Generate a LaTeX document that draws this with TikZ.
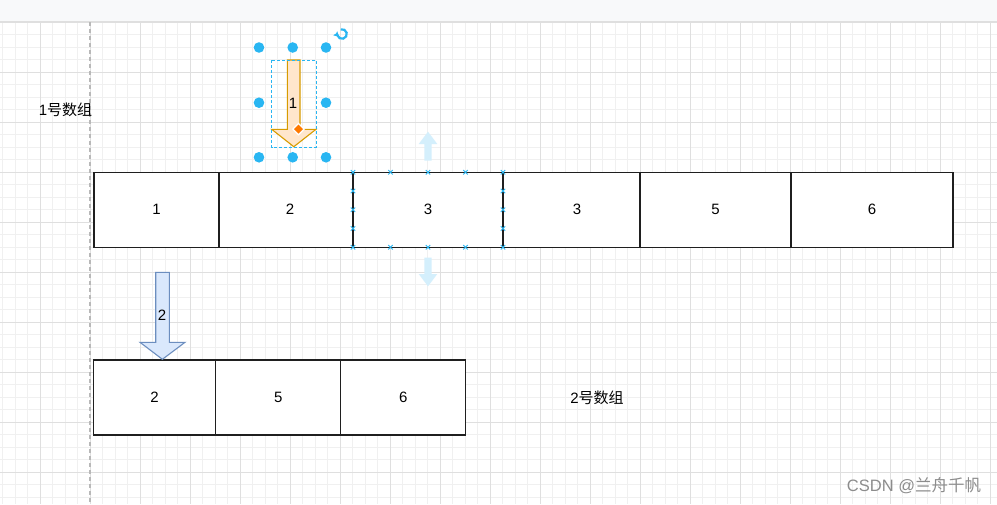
\documentclass[tikz,border=0pt]{standalone}
\usepackage{fontspec}
\setmainfont{Liberation Sans}
\newfontfamily\cjk{Noto Sans CJK SC}
\usetikzlibrary{arrows.meta}
\definecolor{gridmaj}{HTML}{DFDFDF}
\definecolor{gridmin}{HTML}{F0F0F0}
\definecolor{selblue}{HTML}{29B6F2}
\definecolor{faintblue}{HTML}{D4EFFC}
\definecolor{orfill}{HTML}{FFE6CC}
\definecolor{orline}{HTML}{D79B00}
\definecolor{blfill}{HTML}{DAE8FC}
\definecolor{blline}{HTML}{6C8EBF}
\definecolor{barfill}{HTML}{F8F9FA}
\begin{document}
\begin{tikzpicture}[x=1pt,y=-1pt,
  cell/.style={draw=black!88, line width=1.25pt, fill=white, minimum height=75pt, inner sep=0pt, font=\fontsize{15}{17}\selectfont},
  lbl/.style={inner sep=0pt, font=\fontsize{15}{17}\selectfont},
  handle/.style={fill=selblue, draw=none},
  xmark/.style={draw=selblue, line width=1pt},
  blockor/.style={fill=orfill, draw=orline, line width=1.1pt, line join=miter},
  blockbl/.style={fill=blfill, draw=blline, line width=1.1pt, line join=miter},
  ghost/.style={fill=faintblue, draw=none}
]
\useasboundingbox (0,0) rectangle (997,504);
\fill[white] (0,0) rectangle (997,504);
% top bar
\fill[barfill] (0,0) rectangle (997,21);
\draw[gridmaj, line width=0.8pt] (0,21.5) -- (997,21.5);
% grid minor
\foreach \i in {0,...,79} {\draw[gridmin, line width=0.8pt] ({2.5+12.5*\i},22) -- ({2.5+12.5*\i},504);}
\foreach \j in {0,...,38} {\draw[gridmin, line width=0.8pt] (0,{22+12.5*\j}) -- (997,{22+12.5*\j});}
% grid major
\foreach \i in {0,...,19} {\draw[gridmaj, line width=0.9pt] ({40+50*\i},22) -- ({40+50*\i},504);}
\foreach \j in {0,...,9} {\draw[gridmaj, line width=0.9pt] (0,{22+50*\j}) -- (997,{22+50*\j});}
% page break line
\draw[black!28, line width=1.2pt, dash pattern=on 4pt off 3pt] (90,22) -- (90,504);

% labels
\node[lbl] (t1) at (65.5,109.5) {1\cjk 号数组};
\node[lbl] (t2) at (597,397.5) {2\cjk 号数组};
\node[inner sep=0pt, text=black!45, font=\fontsize{16.5}{18}\selectfont] (wm) at (914,485.5) {CSDN @\cjk 兰舟千帆};

% top row (array 1)
\node[cell, minimum width=125pt] (a1) at (156.5,209.75) {1};
\node[cell, minimum width=142pt] (a2) at (290,209.75) {2};
\node[cell, minimum width=148pt] (a4) at (577,209.75) {3};
\node[cell, minimum width=151pt] (a5) at (715.5,209.75) {5};
\node[cell, minimum width=162pt] (a6) at (872,209.75) {6};
\node[cell, minimum width=150pt] (a3) at (428,209.75) {3};

% bottom row (array 2)
\node[cell, minimum width=122.3pt] (b1) at (154.6,397.5) {2};
\node[cell, minimum width=125pt] (b2) at (278.2,397.5) {5};
\node[cell, minimum width=125pt] (b3) at (403.2,397.5) {6};

% selection markers on a3
\foreach \x in {353,390.5,428,465.5,503} {
  \foreach \y in {172.25,247.25} {
    \draw[xmark] (\x-2.2,\y-2.2) -- (\x+2.2,\y+2.2) (\x-2.2,\y+2.2) -- (\x+2.2,\y-2.2);
  }
}
\foreach \x in {353,503} {
  \foreach \y in {191,209.75,228.5} {
    \draw[xmark] (\x-2.2,\y-2.2) -- (\x+2.2,\y+2.2) (\x-2.2,\y+2.2) -- (\x+2.2,\y-2.2);
  }
}
% faint move arrows
\fill[ghost] (424.3,160.7) -- (431.7,160.7) -- (431.7,144) -- (437.3,144) -- (428,131.7) -- (418.7,144) -- (424.3,144) -- cycle;
\fill[ghost] (424.3,257.7) -- (431.7,257.7) -- (431.7,274) -- (437.3,274) -- (428,286.3) -- (418.7,274) -- (424.3,274) -- cycle;

% block arrow 2
\draw[blockbl] (155.7,272.3) -- (169.3,272.3) -- (169.3,342.3) -- (185,342.3) -- (162.4,359.3) -- (140,342.3) -- (155.7,342.3) -- cycle;
\node[lbl] (l2) at (162,315) {2};

% block arrow 1 (selected)
\draw[blockor] (287.3,60) -- (300,60) -- (300,129.3) -- (316,129.3) -- (293.8,146.7) -- (271.7,129.3) -- (287.3,129.3) -- cycle;
\node[lbl] (l1) at (293,103) {1};
\draw[selblue, line width=1pt, dash pattern=on 3pt off 2pt] (271.7,60) rectangle (316,147.3);
\foreach \x/\y in {259/47.5, 292.7/47.5, 326/47.5, 259/102.7, 326/102.7, 259/157.3, 292.7/157.3, 326/157.3} {
  \fill[handle] (\x,\y) circle (5.3pt);
}
\fill[white] (298.5,122.5) -- (305,129) -- (298.5,135.5) -- (292,129) -- cycle;
\fill[orange!95!red] (298.5,124.5) -- (303,129) -- (298.5,133.5) -- (294,129) -- cycle;
% rotate handle
\coordinate (rc) at (342,34);
\draw[selblue, line width=2.2pt, -{Triangle[length=3.5pt,width=6.5pt]}] (rc) ++(255:4.8) arc[start angle=255, end angle=555, radius=4.8];
\end{tikzpicture}
\end{document}
